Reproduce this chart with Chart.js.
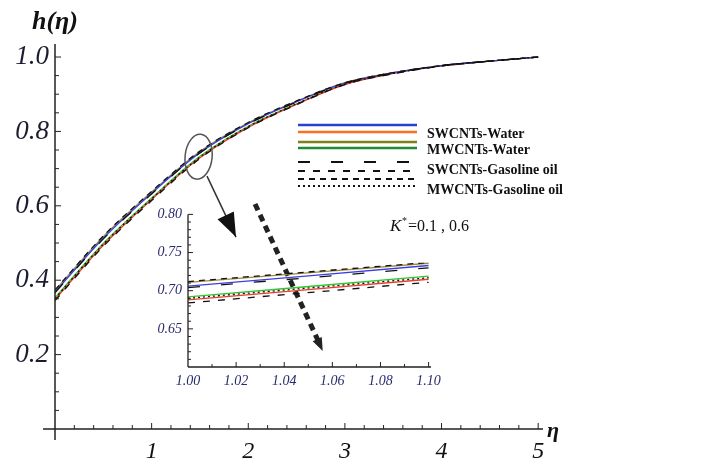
<!DOCTYPE html>
<html>
<head>
<meta charset="utf-8">
<script src="https://cdn.jsdelivr.net/npm/chart.js@4.4.1/dist/chart.umd.min.js"></script>
<style>
  body { margin: 0; background: #fff; }
  #wrap { position: relative; width: 703px; height: 465px; }
  #main { position: absolute; left: 0; top: 0; }
  #inset { position: absolute; left: 130px; top: 200px; }
</style>
</head>
<body>
<div id="wrap">
  <canvas id="main" width="703" height="465"></canvas>
  <canvas id="inset" width="320" height="200"></canvas>
</div>
<script>
// valores
const eta = [0, 0.5, 1, 1.5, 2, 2.5, 3, 3.5, 4, 4.5, 5];

const swWater01 = [0.368, 0.513, 0.634, 0.743, 0.821, 0.880, 0.930, 0.958, 0.977, 0.989, 1.000];
const swWater06 = [0.348, 0.494, 0.617, 0.729, 0.811, 0.873, 0.926, 0.956, 0.976, 0.989, 1.000];
const mwWater01 = [0.372, 0.517, 0.637, 0.746, 0.823, 0.881, 0.931, 0.958, 0.977, 0.989, 1.000];
const mwWater06 = [0.353, 0.499, 0.621, 0.733, 0.814, 0.874, 0.927, 0.956, 0.976, 0.989, 1.000];
const swGas01   = [0.366, 0.511, 0.632, 0.742, 0.820, 0.879, 0.930, 0.957, 0.977, 0.989, 1.000];
const swGas06   = [0.345, 0.491, 0.614, 0.727, 0.810, 0.872, 0.926, 0.955, 0.976, 0.989, 1.000];
const mwGas01   = [0.374, 0.519, 0.639, 0.747, 0.824, 0.882, 0.931, 0.958, 0.977, 0.989, 1.000];
const mwGas06   = [0.351, 0.497, 0.619, 0.731, 0.813, 0.874, 0.927, 0.956, 0.976, 0.989, 1.000];

// zoom (inset)
const etaZoom = [1.00, 1.10];
const zSwWater01 = [0.706, 0.733];
const zSwWater06 = [0.688, 0.715];
const zMwWater01 = [0.711, 0.736];
const zMwWater06 = [0.692, 0.719];
const zSwGas01   = [0.704, 0.730];
const zSwGas06   = [0.684, 0.711];
const zMwGas01   = [0.712, 0.737];
const zMwGas06   = [0.690, 0.717];

const legendLabels = ['SWCNTs-Water', 'MWCNTs-Water', 'SWCNTs-Gasoline oil', 'MWCNTs-Gasoline oil'];
const kLabel = '=0.1 , 0.6';

// estilos de cada serie (negras discontinuas primero para que queden encima)
const estilos = [
  { color: '#111', dash: [6, 5] },   // mwGas01
  { color: '#111', dash: [2, 3] },   // mwGas06
  { color: '#111', dash: [12, 21] }, // swGas01
  { color: '#111', dash: [7, 8] },   // swGas06
  { color: '#3a3fe0', dash: [] },    // swWater01
  { color: '#f03a2a', dash: [] },    // swWater06
  { color: '#a08a3a', dash: [] },    // mwWater01
  { color: '#30c830', dash: [] }     // mwWater06
];
const legendColors = ['#2b3fd6', '#ff6f21', '#7f7f1f', '#1f8a2f'];

function hacerDatasets(xs, series, ancho) {
  return series.map((s, k) => ({
    data: xs.map((x, i) => ({ x: x, y: s[i] })),
    borderColor: estilos[k].color,
    borderDash: estilos[k].dash,
    borderWidth: ancho,
    pointRadius: 0,
    fill: false,
    cubicInterpolationMode: 'monotone'
  }));
}

// ejes tipo Mathematica: lineas y marcas hacia dentro
function ejesPlugin(o) {
  return {
    id: 'ejes',
    afterDraw(chart) {
      const { ctx, chartArea: a, scales: { x, y } } = chart;
      ctx.save();
      ctx.strokeStyle = '#222';
      ctx.lineWidth = o.lw;
      ctx.beginPath();
      ctx.moveTo(a.left - o.extL, a.bottom); ctx.lineTo(a.right, a.bottom);
      ctx.moveTo(a.left, a.top); ctx.lineTo(a.left, a.bottom + o.extB);
      ctx.stroke();
      ctx.lineWidth = 1;
      ctx.beginPath();
      const nx = Math.round((o.xEnd - x.min) / o.xMinor);
      for (let i = 1; i <= nx; i++) {
        const px = x.getPixelForValue(x.min + i * o.xMinor);
        const len = (i % o.xEvery === 0) ? o.major : o.minor;
        ctx.moveTo(px, a.bottom); ctx.lineTo(px, a.bottom - len);
      }
      const ny = Math.round((o.yEnd - y.min) / o.yMinor);
      for (let i = 1; i <= ny; i++) {
        const py = y.getPixelForValue(y.min + i * o.yMinor);
        const len = (i % o.yEvery === 0) ? o.major : o.minor;
        ctx.moveTo(a.left, py); ctx.lineTo(a.left + len, py);
      }
      ctx.stroke();
      ctx.restore();
    }
  };
}

function flecha(ctx, x1, y1, x2, y2, largo, medio) {
  const ang = Math.atan2(y2 - y1, x2 - x1);
  ctx.beginPath();
  ctx.moveTo(x2, y2);
  ctx.lineTo(x2 - largo * Math.cos(ang) + medio * Math.sin(ang), y2 - largo * Math.sin(ang) - medio * Math.cos(ang));
  ctx.lineTo(x2 - largo * Math.cos(ang) - medio * Math.sin(ang), y2 - largo * Math.sin(ang) + medio * Math.cos(ang));
  ctx.closePath();
  ctx.fill();
}

// anotaciones: titulos, leyenda, elipse y flechas
const notasPlugin = {
  id: 'notas',
  afterDraw(chart) {
    const { ctx, chartArea: a, scales: { x, y } } = chart;
    const P = (u, v) => [x.getPixelForValue(u), y.getPixelForValue(v)];
    ctx.save();

    ctx.fillStyle = '#111';
    ctx.textAlign = 'center';
    ctx.textBaseline = 'middle';
    ctx.font = 'italic bold 26px "Liberation Serif"';
    ctx.fillText('h(η)', a.left, 22);
    ctx.font = 'italic bold 22px "Liberation Serif"';
    ctx.fillText('η', a.right + 10, a.bottom + 2);

    // leyenda
    const filas = [[4, 5], [6, 7], [2, 3], [0, 1]];
    const ys = [[125, 132], [142, 148], [162, 171], [179, 186]];
    const ty = [134, 150, 170, 190];
    filas.forEach((f, r) => {
      f.forEach((k, j) => {
        ctx.beginPath();
        ctx.setLineDash(estilos[k].dash.length ? estilos[k].dash : []);
        ctx.lineDashOffset = 0;
        ctx.strokeStyle = estilos[k].dash.length ? '#111' : legendColors[r * 2 + j];
        ctx.lineWidth = estilos[k].dash.length ? 2 : 2.5;
        ctx.moveTo(298, ys[r][j]); ctx.lineTo(417, ys[r][j]);
        ctx.stroke();
      });
      ctx.setLineDash([]);
      ctx.fillStyle = '#111';
      ctx.textAlign = 'left';
      ctx.font = 'bold 14px "Liberation Serif"';
      ctx.fillText(legendLabels[r], 427, ty[r]);
    });

    // K*
    const [kx, ky] = P(3.467, 0.532);
    ctx.font = 'italic 17px "Liberation Serif"';
    ctx.textBaseline = 'alphabetic';
    ctx.fillText('K', kx, ky);
    ctx.font = '10px "Liberation Serif"';
    ctx.fillText('*', kx + 12, ky - 7);
    ctx.font = '16px "Liberation Serif"';
    ctx.fillText(kLabel, kx + 18, ky);

    // elipse y flecha fina
    const [ex, ey] = P(1.486, 0.732);
    ctx.strokeStyle = '#555';
    ctx.lineWidth = 1.5;
    ctx.beginPath();
    ctx.ellipse(ex, ey, 13.5, 22.5, 0.1, 0, Math.PI * 2);
    ctx.stroke();
    const [a1x, a1y] = P(1.573, 0.680);
    const [a2x, a2y] = P(1.873, 0.516);
    ctx.strokeStyle = '#333';
    ctx.beginPath();
    ctx.moveTo(a1x, a1y); ctx.lineTo(a2x, a2y);
    ctx.stroke();
    ctx.fillStyle = '#111';
    flecha(ctx, a1x, a1y, a2x, a2y, 24, 9);

    // flecha gruesa discontinua
    const [b1x, b1y] = P(2.07, 0.605);
    const [b2x, b2y] = P(2.77, 0.21);
    ctx.strokeStyle = '#222';
    ctx.lineWidth = 5;
    ctx.setLineDash([7, 5]);
    ctx.beginPath();
    ctx.moveTo(b1x, b1y); ctx.lineTo(b2x - 4, b2y - 9);
    ctx.stroke();
    ctx.setLineDash([]);
    ctx.fillStyle = '#222';
    flecha(ctx, b1x, b1y, b2x, b2y, 13, 5);
    ctx.restore();
  }
};

const fuenteX = { family: 'Liberation Serif', size: 24, style: 'italic' };
const fuenteY = { family: 'Liberation Serif', size: 27, style: 'italic' };

new Chart(document.getElementById('main'), {
  type: 'line',
  data: {
    datasets: hacerDatasets(eta, [mwGas01, mwGas06, swGas01, swGas06, swWater01, swWater06, mwWater01, mwWater06], 1.3)
  },
  options: {
    responsive: false,
    animation: false,
    devicePixelRatio: 1,
    layout: { padding: { top: 44, right: 160, left: 0, bottom: 0 } },
    plugins: { legend: { display: false }, tooltip: { enabled: false } },
    scales: {
      x: {
        type: 'linear', min: 0, max: 5.05,
        grid: { display: false, drawTicks: false },
        border: { display: false },
        ticks: {
          stepSize: 1, includeBounds: false, padding: 8, color: '#111', font: fuenteX,
          callback: v => (v > 0 ? v : '')
        },
        afterFit: s => { s.height = 36; }
      },
      y: {
        type: 'linear', min: 0, max: 1.035,
        grid: { display: false, drawTicks: false },
        border: { display: false },
        ticks: {
          stepSize: 0.2, includeBounds: false, padding: 6, color: '#1c1c30', font: fuenteY,
          callback: v => (v > 0.01 ? v.toFixed(1) : '')
        },
        afterFit: s => { s.width = 55; }
      }
    }
  },
  plugins: [ejesPlugin({ lw: 1.5, extL: 12, extB: 11, xEnd: 5, xMinor: 0.2, xEvery: 5, yEnd: 1.0, yMinor: 0.05, yEvery: 4, major: 6, minor: 4 }), notasPlugin]
});

const fuenteInset = { family: 'Liberation Serif', size: 14, style: 'italic' };

new Chart(document.getElementById('inset'), {
  type: 'line',
  data: {
    datasets: hacerDatasets(etaZoom, [zMwGas01, zMwGas06, zSwGas01, zSwGas06, zSwWater01, zSwWater06, zMwWater01, zMwWater06], 1.3)
  },
  options: {
    responsive: false,
    animation: false,
    devicePixelRatio: 1,
    layout: { padding: { top: 14, right: 19, left: 0, bottom: 0 } },
    plugins: { legend: { display: false }, tooltip: { enabled: false } },
    scales: {
      x: {
        type: 'linear', min: 1.0, max: 1.101,
        grid: { display: false, drawTicks: false },
        border: { display: false },
        ticks: {
          stepSize: 0.02, includeBounds: false, padding: 6, color: '#2a2a70', font: fuenteInset,
          callback: v => v.toFixed(2)
        },
        afterFit: s => { s.height = 33; }
      },
      y: {
        type: 'linear', min: 0.6, max: 0.8,
        grid: { display: false, drawTicks: false },
        border: { display: false },
        ticks: {
          stepSize: 0.05, padding: 6, color: '#2a2a70', font: fuenteInset,
          callback: v => (v > 0.61 ? v.toFixed(2) : '')
        },
        afterFit: s => { s.width = 58; }
      }
    }
  },
  plugins: [ejesPlugin({ lw: 1.3, extL: 0, extB: 0, xEnd: 1.10, xMinor: 0.01, xEvery: 2, yEnd: 0.80, yMinor: 0.01, yEvery: 5, major: 5, minor: 3 })]
});
</script>
</body>
</html>
